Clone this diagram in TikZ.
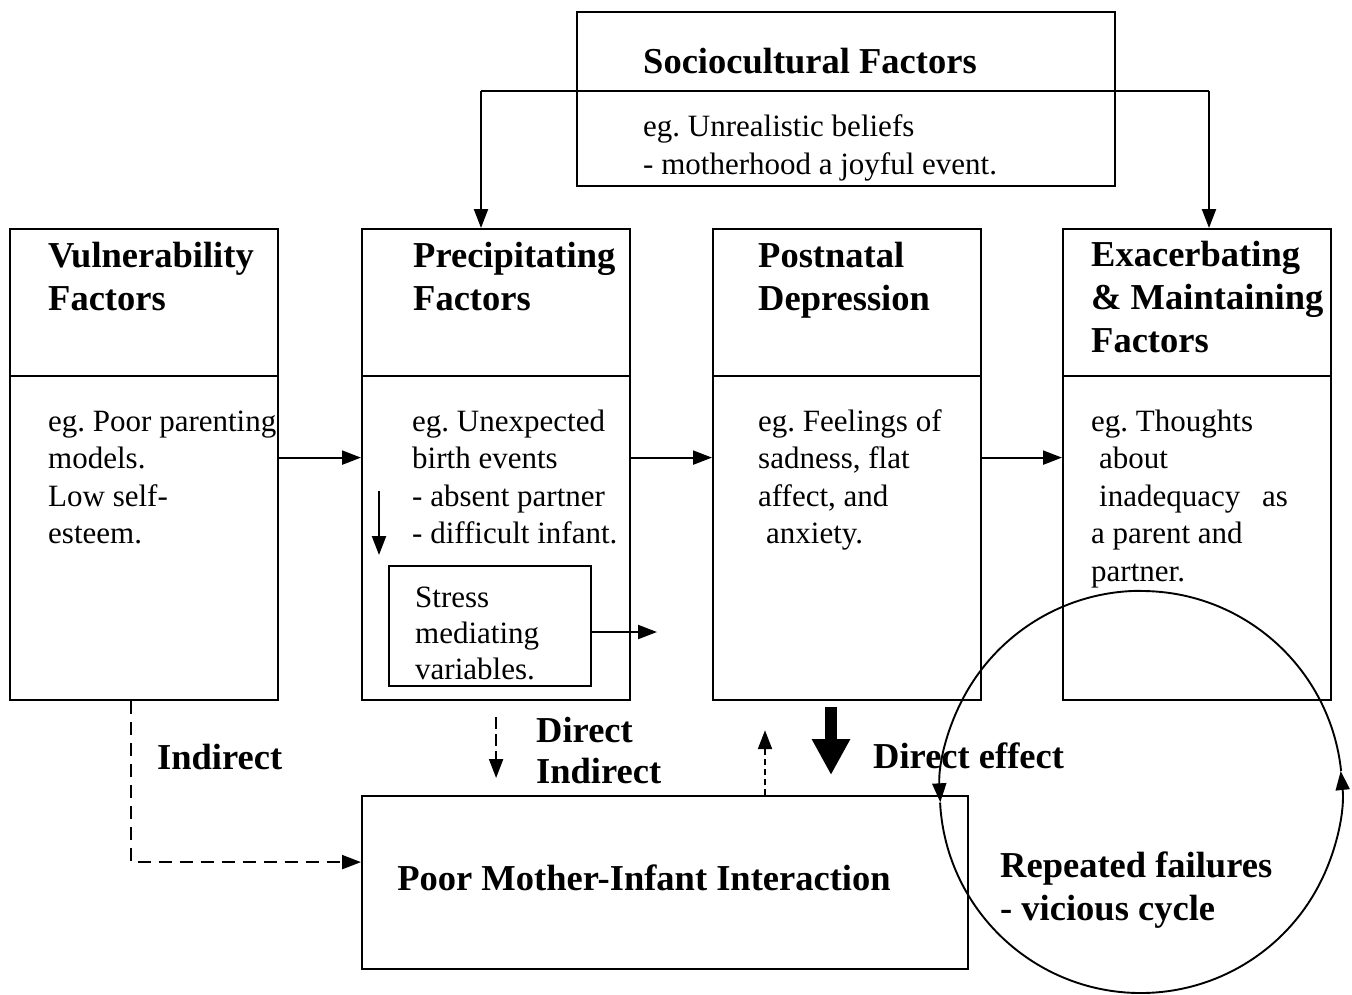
\documentclass[tikz,border=0pt]{standalone}
\usepackage{fontspec}
\setmainfont{Liberation Serif}
\usetikzlibrary{arrows.meta}
\frenchspacing
\begin{document}
\begin{tikzpicture}[x=1pt,y=1pt,
  frame/.style={draw, line width=2.2pt, anchor=north west, inner sep=0pt},
  colbox/.style={frame, minimum width=268pt, minimum height=471pt},
  % multi-line text nodes are placed by the baseline of their last line
  hd/.style={anchor=base west, inner sep=0pt, align=left, font=\fontsize{36.5}{43}\selectfont\bfseries},
  bd/.style={anchor=base west, inner sep=0pt, align=left, font=\fontsize{31}{37.5}\selectfont},
  lbl/.style={anchor=base west, inner sep=0pt, font=\fontsize{36.5}{43}\selectfont\bfseries},
  tip/.style={-{Triangle[length=19pt,width=14pt]}},
  conn/.style={line width=2.2pt, tip},
  longdash/.style={conn, dash pattern=on 13pt off 8pt},
  shortdash/.style={conn, dash pattern=on 6pt off 4pt},
  fat/.style={line width=12pt, -{Triangle[length=36pt,width=36pt]}},
  loop/.style={line width=1.9pt}
]
\useasboundingbox[fill=white] (0,0) rectangle (1352,-994);

% --- sociocultural factors at the top
\node[frame, minimum width=538pt, minimum height=174pt] (soc) at (576,-11) {};
\node[hd] (socT) at (643,-73) {Sociocultural Factors};
\node[bd] (socB) at (643,-174) {eg. Unrealistic beliefs\\- motherhood a joyful event.};

% --- the four factor columns
\node[colbox] (vul) at (9,-228) {};
\node[colbox] (pre) at (361,-228) {};
\node[colbox] (pnd) at (712,-228) {};
\node[colbox] (exa) at (1062,-228) {};
\foreach \b in {vul,pre,pnd,exa}
  \draw[line width=2.2pt] (\b.north west |- 0,-376) -- (\b.north east |- 0,-376);

\node[hd] (vulT) at (48,-310) {Vulnerability\\Factors};
\node[hd] (preT) at (413,-310) {Precipitating\\Factors};
\node[hd] (pndT) at (758,-310) {Postnatal\\Depression};
\node[hd] (exaT) at (1091,-352) {Exacerbating\\\& Maintaining\\Factors};

\node[bd] (vulB) at (48,-543.5) {eg. Poor parenting\\models.\\Low self-\\esteem.};
\node[bd] (preB) at (412,-543.5) {eg. Unexpected\\birth events\\- absent partner\\- difficult infant.};
\node[bd] (pndB) at (758,-543.5) {eg. Feelings of\\sadness, flat\\affect, and\\\hspace*{8pt}anxiety.};
\node[bd] (exaB) at (1091,-581) {eg. Thoughts\\\hspace*{8pt}about\\\hspace*{8pt}inadequacy\hspace{14pt} as\\a parent and\\partner.};

% --- stress mediating variables inside the precipitating column
\node[frame, minimum width=202pt, minimum height=120pt] (str) at (388,-565) {};
\node[anchor=base west, inner sep=0pt, align=left, font=\fontsize{31}{36}\selectfont] (strT) at (415,-679) {Stress\\mediating\\variables.};
\coordinate (strA) at (379,-491);
\coordinate (strB) at (379,-555);
\draw[conn] (strA) -- (strB);
\coordinate (strOut) at (657,-632);
\draw[conn] (str.east |- strOut) -- (strOut);

% --- sociocultural influence on precipitating and maintaining factors
\coordinate (busL) at (481,-91);
\coordinate (busR) at (1209,-91);
\draw[line width=2.2pt] (busL) -- (busR);
\draw[conn] (busL) -- (busL |- pre.north);
\draw[conn] (busR) -- (busR |- exa.north);

% --- left-to-right chain
\draw[conn] ([yshift=7pt]vul.east) -- ([yshift=7pt]pre.west);
\draw[conn] ([yshift=7pt]pre.east) -- ([yshift=7pt]pnd.west);
\draw[conn] ([yshift=7pt]pnd.east) -- ([yshift=7pt]exa.west);

% --- mother-infant interaction
\node[frame, minimum width=606pt, minimum height=173pt] (pmi) at (361,-795) {};
\node[anchor=base, inner sep=0pt, font=\fontsize{36.5}{43}\selectfont\bfseries] (pmiT) at (644,-890) {Poor Mother-Infant Interaction};

\draw[longdash] ([xshift=-13.5pt]vul.south) |- ([yshift=20.5pt]pmi.west);
\node[lbl] (ind1) at (157,-769) {Indirect};

\draw[shortdash, dash pattern=on 12pt off 5pt, shorten <=16pt, shorten >=17pt] (pre.south) -- (pre.south |- pmi.north);
\node[lbl] (dir1) at (536,-742) {Direct};
\node[lbl] (ind2) at (536,-783) {Indirect};

\coordinate (upx) at (765,0);
\draw[shortdash, shorten >=29pt] (pmi.north -| upx) -- (pnd.south -| upx);

\coordinate (fatx) at (831,0);
\draw[fat, shorten <=6pt, shorten >=20pt] (pnd.south -| fatx) -- (pmi.north -| fatx);
\node[lbl] (dirE) at (873,-768) {Direct effect};

% --- vicious cycle
\node[circle, inner sep=0pt, minimum size=402pt] (cyc) at (1141,-792) {};
\draw[loop, tip] (cyc.90) arc[start angle=90, end angle=183, radius=201pt];
\draw[loop, tip] (cyc.183) arc[start angle=183, end angle=366, radius=201pt];
\draw[loop] (cyc.6) arc[start angle=6, end angle=90, radius=201pt];
\node[anchor=base west, inner sep=0pt, align=left, font=\fontsize{36.5}{43}\selectfont\bfseries] (cycT) at (1000,-920) {Repeated failures\\- vicious cycle};
\end{tikzpicture}
\end{document}
